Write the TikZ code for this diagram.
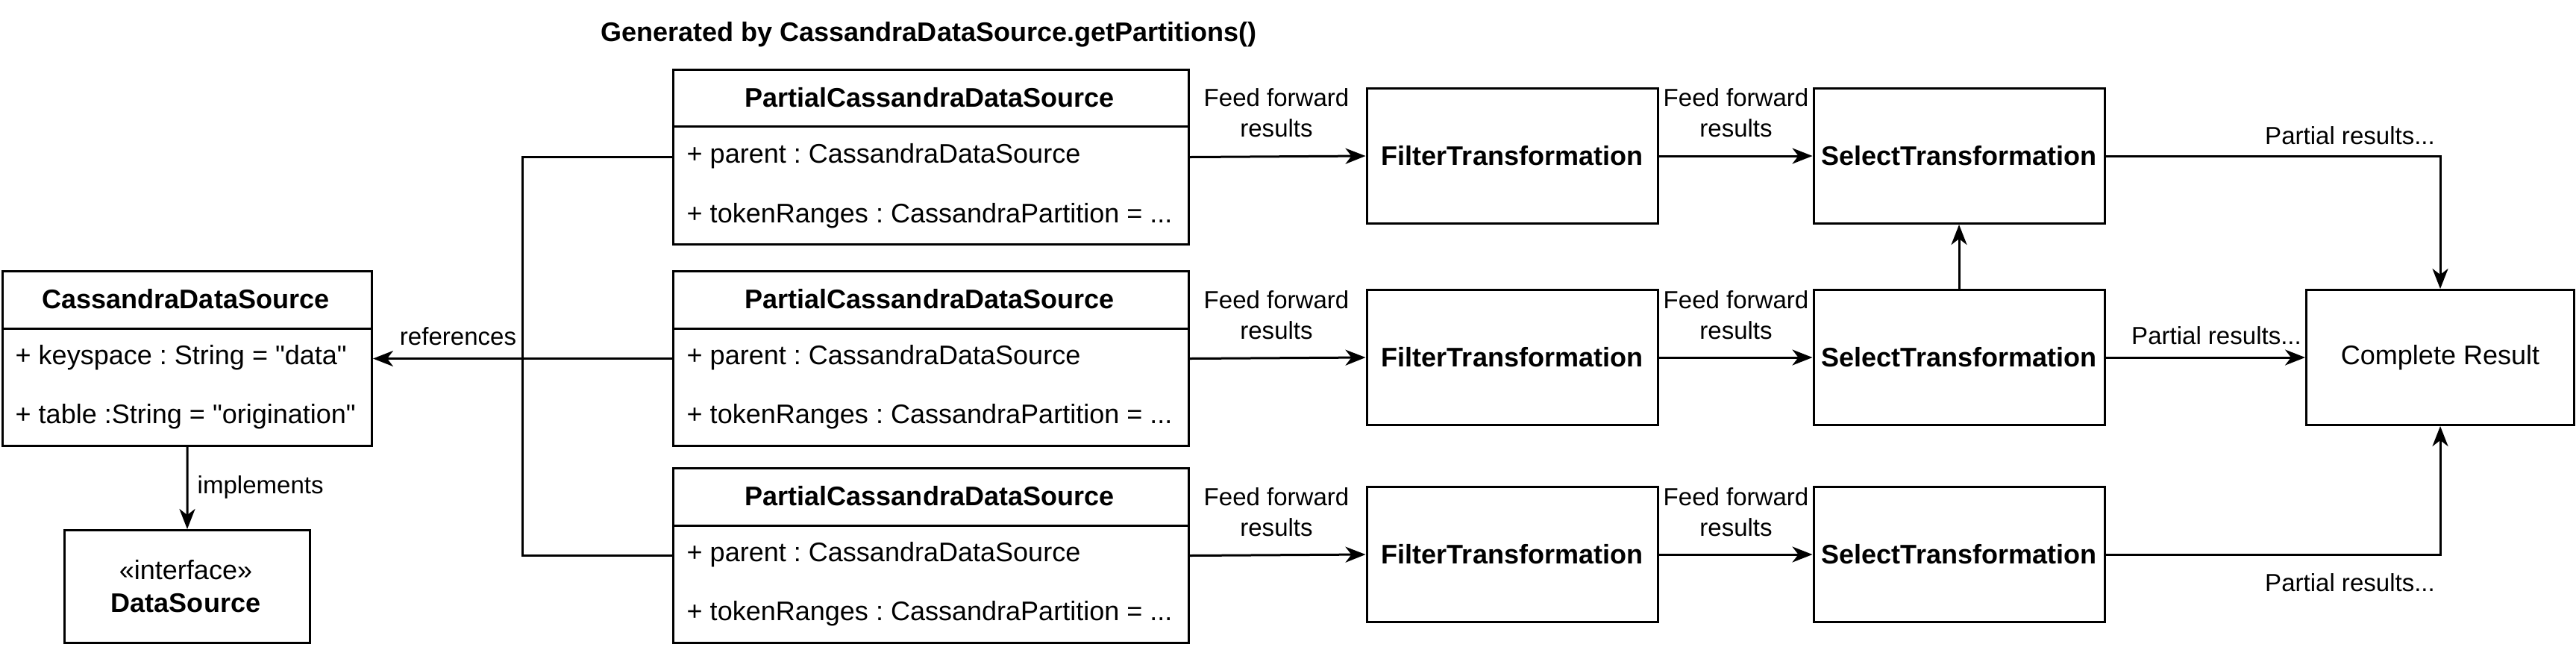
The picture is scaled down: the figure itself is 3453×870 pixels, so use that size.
\documentclass[tikz,border=0pt]{standalone}
\usepackage{fontspec}
\setmainfont{Liberation Sans}[Ligatures=TeXOff]
\usetikzlibrary{arrows.meta,positioning}
\frenchspacing

\begin{document}
\begin{tikzpicture}[x=0.1mm,y=-0.1mm,
    every node/.style={font=\fontsize{10.25}{12.3}\selectfont, inner sep=0pt},
    cls/.style={draw, line width=0.3mm},
    bold/.style={font=\fontsize{10.25}{12.3}\selectfont\bfseries},
    lbl/.style={font=\fontsize{9.4}{11.6}\selectfont, align=center},
    arr/.style={line width=0.3mm, -{Stealth[length=2.7mm, width=2.1mm, inset=0.8mm]}},
    plain/.style={line width=0.3mm}]

    \useasboundingbox (0,0) rectangle (3453,870);

    % title
    \node[bold] (title) at (1245,46) {Generated by CassandraDataSource.getPartitions()};

    % CassandraDataSource and its interface
    \node[cls, minimum width=49.5mm, minimum height=23.4mm, anchor=north west] (cds) at (2,362) {};
    \draw[plain] (2,440) -- (497,440);
    \node[bold] (cdsh) at (249,401) {CassandraDataSource};
    \node[anchor=west] (cdsa) at (20,479) {+ keyspace : String = "data"};
    \node[anchor=west] (cdsb) at (20,558) {+ table :String = "origination"};

    \node[cls, minimum width=32.9mm, minimum height=15.1mm, anchor=north west] (ds) at (85,709) {};
    \node (dsa) at (249,764) {«interface»};
    \node[bold] (dsb) at (249,808) {DataSource};

    \draw[arr] (cds.south) -- (ds.north);
    \node[lbl, anchor=west] (impl) at (264,653) {implements};

    % partial data sources
    \node[cls, minimum width=69.1mm, minimum height=23.4mm, anchor=north west] (p1) at (901,92) {};
    \draw[plain] (901,169) -- (1592,169);
    \node[bold] (p1h) at (1246,131) {PartialCassandraDataSource};
    \node[anchor=west] (p1a) at (920,209) {+ parent : CassandraDataSource};
    \node[anchor=west] (p1b) at (920,289) {+ tokenRanges : CassandraPartition = ...};

    \node[cls, minimum width=69.1mm, minimum height=23.4mm, anchor=north west] (p2) at (901,362) {};
    \draw[plain] (901,440) -- (1592,440);
    \node[bold] (p2h) at (1246,401) {PartialCassandraDataSource};
    \node[anchor=west] (p2a) at (920,479) {+ parent : CassandraDataSource};
    \node[anchor=west] (p2b) at (920,558) {+ tokenRanges : CassandraPartition = ...};

    \node[cls, minimum width=69.1mm, minimum height=23.4mm, anchor=north west] (p3) at (901,626) {};
    \draw[plain] (901,704) -- (1592,704);
    \node[bold] (p3h) at (1246,665) {PartialCassandraDataSource};
    \node[anchor=west] (p3a) at (920,743) {+ parent : CassandraDataSource};
    \node[anchor=west] (p3b) at (920,822) {+ tokenRanges : CassandraPartition = ...};

    % references
    \coordinate (jn) at (700,479);
    \draw[plain] (p1.west) -| (jn) |- (p3.west);
    \draw[arr] (p2.west) -- (cds.east);
    \node[lbl] (refs) at (614,451) {references};

    % transformations
    \node[cls, bold, minimum width=39mm, minimum height=18.1mm] (f1) at (2027,209) {FilterTransformation};
    \node[cls, bold, minimum width=39mm, minimum height=18.1mm] (f2) at (2027,479) {FilterTransformation};
    \node[cls, bold, minimum width=39mm, minimum height=18.1mm] (f3) at (2027,743) {FilterTransformation};
    \node[cls, bold, minimum width=39mm, minimum height=18.1mm] (s1) at (2626,209) {SelectTransformation};
    \node[cls, bold, minimum width=39mm, minimum height=18.1mm] (s2) at (2626,479) {SelectTransformation};
    \node[cls, bold, minimum width=39mm, minimum height=18.1mm] (s3) at (2626,743) {SelectTransformation};
    \node[cls, minimum width=35.9mm, minimum height=18.1mm] (cr) at (3271,479) {Complete Result};

    \draw[arr] (p1.east) -- (f1.west);
    \draw[arr] (p2.east) -- (f2.west);
    \draw[arr] (p3.east) -- (f3.west);
    \draw[arr] (f1.east) -- (s1.west);
    \draw[arr] (f2.east) -- (s2.west);
    \draw[arr] (f3.east) -- (s3.west);
    \draw[arr] (s2.north) -- (s1.south);
    \draw[arr] (s1.east) -| (cr.north);
    \draw[arr] (s2.east) -- (cr.west);
    \draw[arr] (s3.east) -| (cr.south);

    \node[lbl] (ff1) at (1711,151) {Feed forward\\results};
    \node[lbl] (ff2) at (1711,422) {Feed forward\\results};
    \node[lbl] (ff3) at (1711,686) {Feed forward\\results};
    \node[lbl] (ff4) at (2327,151) {Feed forward\\results};
    \node[lbl] (ff5) at (2327,422) {Feed forward\\results};
    \node[lbl] (ff6) at (2327,686) {Feed forward\\results};

    \node[lbl] (pr1) at (3150,182) {Partial results...};
    \node[lbl] (pr2) at (2971,450) {Partial results...};
    \node[lbl] (pr3) at (3150,781) {Partial results...};

\end{tikzpicture}
\end{document}
